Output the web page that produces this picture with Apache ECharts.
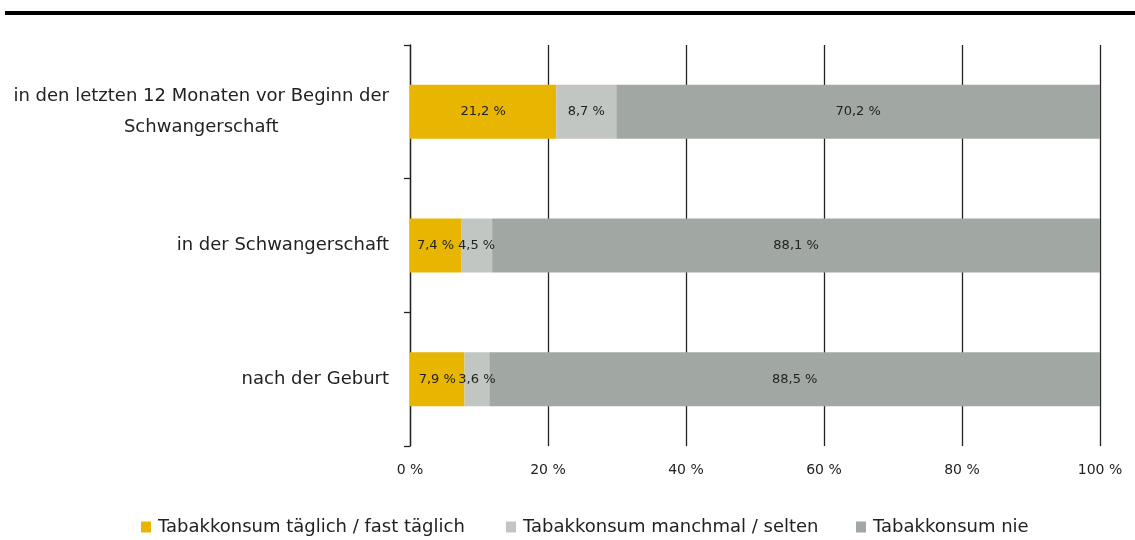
<!DOCTYPE html>
<html>
<head>
<meta charset="utf-8">
<script src="https://cdn.jsdelivr.net/npm/echarts@6/dist/echarts.min.js"></script>
<style>
  html, body { margin: 0; padding: 0; background: #fff; }
  #chart { width: 1135px; height: 540px; }
</style>
</head>
<body>
<div id="chart"></div>
<script>
// Tabakkonsum rund um die Schwangerschaft — gestapelte Balken
const categories = [
  "in den letzten 12 Monaten vor Beginn der\nSchwangerschaft",
  "in der Schwangerschaft",
  "nach der Geburt"
];
const seriesNames = [
  "Tabakkonsum täglich / fast täglich",
  "Tabakkonsum manchmal / selten",
  "Tabakkonsum nie"
];
const daily = [21.2, 7.4, 7.9];
const sometimes = [8.7, 4.5, 3.6];
const never = [70.2, 88.1, 88.5];
const xTicks = [0, 20, 40, 60, 80, 100];

const colors = ["#e8b500", "#c1c6c2", "#a1a8a3"];
const font = "DejaVu Sans";
const fmt = (v) => String(v).replace(".", ",") + " %";

const chart = echarts.init(document.getElementById("chart"), null, { renderer: "canvas" });

function bar(name, data, color) {
  return {
    name, type: "bar", stack: "all", data,
    barWidth: 54,
    itemStyle: { color },
    label: {
      show: true, position: "inside", color: "#222",
      fontFamily: font, fontSize: 13,
      formatter: (p) => fmt(p.value)
    }
  };
}

function legendAt(left, name) {
  return {
    left, top: 513, data: [name],
    itemWidth: 10, itemHeight: 11, itemGap: 0,
    icon: "path://M0,3L10,3L10,14L0,14Z",
    textStyle: { fontFamily: font, fontSize: 18, color: "#222", padding: [0, 0, 0, 2] }
  };
}

chart.setOption({
  backgroundColor: "#fff",
  animation: false,
  color: colors,
  graphic: [{
    type: "rect", shape: { x: 5, y: 11, width: 1130, height: 4 },
    style: { fill: "#000" }
  }],
  grid: { left: 410, right: 35, top: 45, bottom: 94 },
  legend: [
    legendAt(136, seriesNames[0]),
    legendAt(501, seriesNames[1]),
    legendAt(851, seriesNames[2])
  ],
  xAxis: {
    type: "value", min: 0, max: 100, interval: 20,
    axisLine: { show: false },
    axisTick: { show: false },
    splitLine: { show: true, lineStyle: { color: "#222", width: 1.3 } },
    axisLabel: {
      margin: 17, color: "#222", fontFamily: font, fontSize: 14,
      customValues: xTicks,
      formatter: (v) => v + " %"
    }
  },
  yAxis: {
    type: "category", inverse: true, data: categories,
    axisLine: { show: true, lineStyle: { color: "#222", width: 1.3 } },
    axisTick: { show: true, length: 6, lineStyle: { color: "#222", width: 1.3 } },
    axisLabel: {
      margin: 21, color: "#222", fontFamily: font, fontSize: 18,
      formatter: (v) => {
        const parts = v.split("\n");
        if (parts.length === 1) return "{a|" + v + "}";
        return "{a|" + parts[0] + "}\n{b|" + parts[1] + "}";
      },
      rich: {
        a: { fontFamily: font, fontSize: 18, color: "#222", lineHeight: 31 },
        b: { fontFamily: font, fontSize: 18, color: "#222", lineHeight: 31, align: "center" }
      }
    }
  },
  series: [
    bar(seriesNames[0], daily, colors[0]),
    bar(seriesNames[1], sometimes, colors[1]),
    bar(seriesNames[2], never, colors[2])
  ]
});
</script>
</body>
</html>
